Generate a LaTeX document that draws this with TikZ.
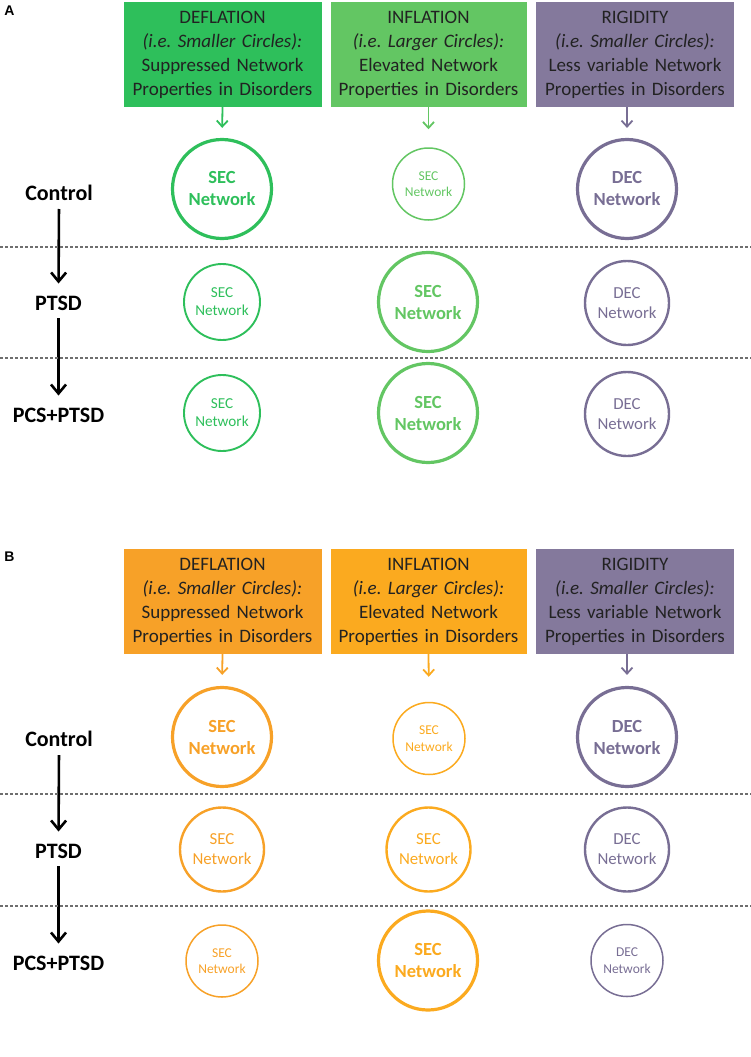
\documentclass[tikz,border=0pt]{standalone}
\usepackage{fontspec}
\setmainfont{Carlito}
\newfontfamily\panelfont{Liberation Sans}
\usepackage{tikz}
\usetikzlibrary{arrows.meta}
\frenchspacing
\definecolor{DefGreen}{HTML}{2EBF5B}
\definecolor{InfGreen}{HTML}{63C663}
\definecolor{RigPurple}{HTML}{84799C}
\definecolor{RingPurple}{HTML}{786E94}
\definecolor{DefOrange}{HTML}{F7A128}
\definecolor{InfAmber}{HTML}{FBAA1F}
\definecolor{BoxText}{HTML}{222222}
\definecolor{SepGrey}{HTML}{6E6E6E}

\begin{document}
\begin{tikzpicture}[
  x=1pt,y=-1pt,
  flow/.style={
    -{Straight Barb[length=6pt,width=11pt]},
    line width=1.8pt
  },
  trend/.style={
    -{Straight Barb[length=9pt,width=15pt]},
    line width=2.6pt,
    draw=black,
    shorten <=4pt,
    shorten >=8pt
  },
  boxgreen/.style={
    fill=DefGreen,
    align=center,
    text width=190pt,
    minimum width=198pt,
    minimum height=105pt,
    inner sep=4pt,
    font=\fontsize{19}{24}\selectfont,
    text=BoxText
  },
  boxlime/.style={
    fill=InfGreen,
    align=center,
    text width=188pt,
    minimum width=196pt,
    minimum height=105pt,
    inner sep=4pt,
    font=\fontsize{19}{24}\selectfont,
    text=BoxText
  },
  boxpurple/.style={
    fill=RigPurple,
    align=center,
    text width=190pt,
    minimum width=198pt,
    minimum height=105pt,
    inner sep=4pt,
    font=\fontsize{19}{24}\selectfont,
    text=BoxText
  },
  boxorange/.style={
    fill=DefOrange,
    align=center,
    text width=190pt,
    minimum width=198pt,
    minimum height=105pt,
    inner sep=4pt,
    font=\fontsize{19}{24}\selectfont,
    text=BoxText
  },
  boxamber/.style={
    fill=InfAmber,
    align=center,
    text width=188pt,
    minimum width=196pt,
    minimum height=105pt,
    inner sep=4pt,
    font=\fontsize{19}{24}\selectfont,
    text=BoxText
  },
  bigring/.style={
    circle,
    minimum size=99pt,
    inner sep=0pt,
    line width=3.2pt,
    align=center,
    font=\bfseries\fontsize{18.5}{22}\selectfont
  },
  midring/.style={
    circle,
    minimum size=84pt,
    inner sep=0pt,
    line width=2.4pt,
    align=center,
    font=\fontsize{16.8}{20}\selectfont
  },
  smallring/.style={
    circle,
    minimum size=76pt,
    inner sep=0pt,
    line width=1.9pt,
    align=center,
    font=\fontsize{15.2}{18}\selectfont
  },
  tinyring/.style={
    circle,
    minimum size=72pt,
    inner sep=0pt,
    line width=1.5pt,
    align=center,
    font=\fontsize{13.5}{16.5}\selectfont
  },
  stagelabel/.style={
    font=\bfseries\fontsize{22}{26}\selectfont,
    inner sep=4pt
  },
  panellabel/.style={
    font=\panelfont\bfseries\fontsize{14}{16}\selectfont,
    inner sep=0pt
  },
  separator/.style={
    draw=SepGrey,
    line width=1.1pt,
    dash pattern=on 3pt off 2pt
  }
]
\useasboundingbox (0,0) rectangle (751,1057);

% -------------------------------------------------
% Panel A: effect boxes
% -------------------------------------------------
\node[panellabel] (labA) at (9.5,10.5) {A};

\node[boxgreen] (defA) at (222.5,54.5)
{DEFLATION\\\textit{(i.e. Smaller Circles):}\\Suppressed Network\\Properties in Disorders};

\node[boxlime] (infA) at (428.5,54.5)
{INFLATION\\\textit{(i.e. Larger Circles):}\\Elevated Network\\Properties in Disorders};

\node[boxpurple] (rigA) at (635,54.5)
{RIGIDITY\\\textit{(i.e. Smaller Circles):}\\Less variable Network\\Properties in Disorders};

% -------------------------------------------------
% Panel A: rings
% -------------------------------------------------
\node[bigring, draw=DefGreen, text=DefGreen] (cA11) at (222,189) {SEC\\Network};
\node[tinyring, draw=InfGreen, text=InfGreen] (cA12) at (428.5,184) {SEC\\Network};
\node[bigring, draw=RingPurple, text=RingPurple] (cA13) at (627,189) {DEC\\Network};

\node[smallring, draw=DefGreen, text=DefGreen] (cA21) at (222,302) {SEC\\Network};
\node[bigring, draw=InfGreen, text=InfGreen] (cA22) at (428,302) {SEC\\Network};
\node[midring, draw=RingPurple, text=RingPurple] (cA23) at (627,303) {DEC\\Network};

\node[smallring, draw=DefGreen, text=DefGreen] (cA31) at (222,413) {SEC\\Network};
\node[bigring, draw=InfGreen, text=InfGreen] (cA32) at (428,413) {SEC\\Network};
\node[midring, draw=RingPurple, text=RingPurple] (cA33) at (627,414) {DEC\\Network};

\draw[flow, draw=DefGreen, shorten >=10pt] (defA.south) -- (cA11.north);
\draw[flow, draw=InfGreen, shorten >=18pt] (infA.south) -- (cA12.north);
\draw[flow, draw=RingPurple, shorten >=10pt] (cA13 |- rigA.south) -- (cA13.north);

% stages
\node[stagelabel] (ctrlA) at (59,193) {Control};
\node[stagelabel] (ptsdA) at (58.5,303) {PTSD};
\node[stagelabel] (pcsA) at (58.5,415) {PCS+PTSD};

\draw[trend] (ctrlA.south) -- (ptsdA.north);
\draw[trend] (ptsdA.south) -- (pcsA.north);

\draw[separator] (0,247) -- (751,247);
\draw[separator] (0,358) -- (751,358);

% -------------------------------------------------
% Panel B: effect boxes
% -------------------------------------------------
\node[panellabel] (labB) at (9.5,557) {B};

\node[boxorange] (defB) at (222.5,601.5)
{DEFLATION\\\textit{(i.e. Smaller Circles):}\\Suppressed Network\\Properties in Disorders};

\node[boxamber] (infB) at (428.5,601.5)
{INFLATION\\\textit{(i.e. Larger Circles):}\\Elevated Network\\Properties in Disorders};

\node[boxpurple] (rigB) at (635,601.5)
{RIGIDITY\\\textit{(i.e. Smaller Circles):}\\Less variable Network\\Properties in Disorders};

% -------------------------------------------------
% Panel B: rings
% -------------------------------------------------
\node[bigring, draw=DefOrange, text=DefOrange] (cB11) at (222,737) {SEC\\Network};
\node[tinyring, draw=InfAmber, text=InfAmber] (cB12) at (429,738.5) {SEC\\Network};
\node[bigring, draw=RingPurple, text=RingPurple] (cB13) at (627,737) {DEC\\Network};

\node[midring, draw=DefOrange, text=DefOrange] (cB21) at (222,849.5) {SEC\\Network};
\node[midring, draw=InfAmber, text=InfAmber] (cB22) at (428.5,849.5) {SEC\\Network};
\node[midring, draw=RingPurple, text=RingPurple] (cB23) at (627,849.5) {DEC\\Network};

\node[tinyring, draw=DefOrange, text=DefOrange] (cB31) at (222,961) {SEC\\Network};
\node[bigring, draw=InfAmber, text=InfAmber] (cB32) at (428,960.5) {SEC\\Network};
\node[tinyring, draw=RingPurple, text=RingPurple] (cB33) at (627,960.5) {DEC\\Network};

\draw[flow, draw=DefOrange, shorten >=11pt] (defB.south) -- (cB11.north);
\draw[flow, draw=InfAmber, shorten >=25pt] (infB.south) -- (cB12.north);
\draw[flow, draw=RingPurple, shorten >=11pt] (cB13 |- rigB.south) -- (cB13.north);

% stages
\node[stagelabel] (ctrlB) at (59,739) {Control};
\node[stagelabel] (ptsdB) at (58.5,851) {PTSD};
\node[stagelabel] (pcsB) at (58.5,963) {PCS+PTSD};

\draw[trend] (ctrlB.south) -- (ptsdB.north);
\draw[trend] (ptsdB.south) -- (pcsB.north);

\draw[separator] (0,794) -- (751,794);
\draw[separator] (0,906) -- (751,906);

\end{tikzpicture}
\end{document}
